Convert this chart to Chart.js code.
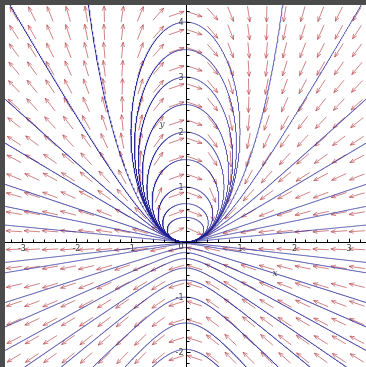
<!DOCTYPE html>
<html>
<head>
<meta charset="utf-8">
<script src="https://cdn.jsdelivr.net/npm/chart.js@4"></script>
<style>
  html, body { margin: 0; padding: 0; background: #4b4b4b; }
  canvas { display: block; }
</style>
</head>
<body>
<canvas id="phase" width="366" height="367"></canvas>
<script>
// view window
const xRange = [-3.31, 3.31];
const yRange = [-2.27, 4.31];

// axis labels
const xTickLabels = [-3, -2, -1, 1, 2, 3];
const yTickLabels = [-2, -1, 1, 2, 3, 4];

// starting points of the solution curves
const loopStartY = [4, 3.5, 3, 2.5, 2, 1.5, 1, 0.7, 0.45];
const openStartX = [1.78, 3.22, 3.31, 3.31, 3.31, 3.31, 3.31];
const openStartY = [4.31, 4.31, 2.6, 1.8, 1.05, 0.65, 0.31];
const lowerStartY = [-0.012, -0.027, -0.1, -0.19, -0.3, -0.47, -0.69, -1, -1.47, -1.95];

// direction field: x' = y - 2x^2, y' = -2xy
const dirGrid = [20, 20];
const fx = (x, y) => y - 2 * x * x;
const fy = (x, y) => -2 * x * y;

// trajectories are the conics x^2 = y + k*y^2
solutionCurve = (x0, y0) => {
    const k = (x0 * x0 - y0) / (y0 * y0);
    const pts = [];
    if (y0 > 0 && k < 0) {
        const a = -k;
        const rx = 1 / (2 * Math.sqrt(a));
        const ry = 1 / (2 * a);
        for (let i = 0; i <= 900; i++) {
            const t = i / 900 * 2 * Math.PI;
            pts.push({x: rx * Math.cos(t), y: ry + ry * Math.sin(t)});
        }
    } else {
        const sign = y0 > 0 ? 1 : -1;
        for (let i = 0; i <= 1000; i++) {
            const x = -3.4 + i * 6.8 / 1000;
            const y = k === 0 ? x * x : (-1 + sign * Math.sqrt(1 + 4 * k * x * x)) / (2 * k);
            pts.push({x: x, y: y});
        }
    }
    return pts;
}

const starts = [];
for (const y0 of loopStartY) starts.push([0, y0]);
for (let i = 0; i < openStartX.length; i++) starts.push([openStartX[i], openStartY[i]]);
for (const y0 of lowerStartY) starts.push([0, y0]);

const datasets = starts.map(s => ({
    data: solutionCurve(s[0], s[1]),
    showLine: true,
    borderColor: 'rgba(35, 35, 150, 0.75)',
    borderWidth: 1,
    pointRadius: 0,
    tension: 0
}));

const backdrop = {
    id: 'backdrop',
    beforeDraw(chart) {
        const {ctx, chartArea: a} = chart;
        ctx.save();
        ctx.fillStyle = '#4b4b4b';
        ctx.fillRect(0, 0, chart.width, chart.height);
        ctx.fillStyle = '#ffffff';
        ctx.fillRect(a.left, a.top, a.right - a.left, a.bottom - a.top);
        ctx.restore();
    }
};

const arrows = {
    id: 'arrows',
    beforeDatasetsDraw(chart) {
        const {ctx, scales: {x: sx, y: sy}} = chart;
        const dx = (xRange[1] - xRange[0]) / dirGrid[0];
        const dy = (yRange[1] - yRange[0]) / dirGrid[1];
        const len = 16, head = 5, spread = 0.38;
        ctx.save();
        ctx.strokeStyle = 'rgba(185, 65, 70, 0.65)';
        ctx.lineWidth = 1;
        for (let i = 0; i < dirGrid[0]; i++) {
            for (let j = 0; j < dirGrid[1]; j++) {
                const x = xRange[0] + (i + 0.5) * dx;
                const y = yRange[0] + (j + 0.5) * dy;
                const px = sx.getPixelForValue(x), py = sy.getPixelForValue(y);
                // direction in pixel space
                let pu = fx(x, y) * (sx.getPixelForValue(1) - sx.getPixelForValue(0));
                let pv = fy(x, y) * (sy.getPixelForValue(1) - sy.getPixelForValue(0));
                const m = Math.hypot(pu, pv);
                if (m === 0) continue;
                pu /= m; pv /= m;
                const x1 = px - pu * len / 2, y1 = py - pv * len / 2;
                const x2 = px + pu * len / 2, y2 = py + pv * len / 2;
                const ang = Math.atan2(pv, pu);
                ctx.beginPath();
                ctx.moveTo(x1, y1);
                ctx.lineTo(x2, y2);
                ctx.moveTo(x2 - head * Math.cos(ang - spread), y2 - head * Math.sin(ang - spread));
                ctx.lineTo(x2, y2);
                ctx.lineTo(x2 - head * Math.cos(ang + spread), y2 - head * Math.sin(ang + spread));
                ctx.stroke();
            }
        }
        ctx.restore();
    }
};

const axes = {
    id: 'axes',
    afterDatasetsDraw(chart) {
        const {ctx, chartArea: a, scales: {x: sx, y: sy}} = chart;
        const ox = Math.round(sx.getPixelForValue(0)) + 0.5;
        const oy = Math.round(sy.getPixelForValue(0)) + 0.5;
        ctx.save();
        ctx.strokeStyle = '#000';
        ctx.lineWidth = 1;
        ctx.beginPath();
        ctx.moveTo(a.left, oy); ctx.lineTo(a.right, oy);
        ctx.moveTo(ox, a.top); ctx.lineTo(ox, a.bottom);
        // small ticks every 0.2
        for (let t = -16; t <= 16; t++) {
            const v = t / 5;
            if (v > xRange[0] && v < xRange[1]) {
                const p = Math.round(sx.getPixelForValue(v)) + 0.5;
                ctx.moveTo(p, oy); ctx.lineTo(p, oy - (t % 5 === 0 ? 4 : 3));
            }
        }
        for (let t = -11; t <= 21; t++) {
            const v = t / 5;
            if (v > yRange[0] && v < yRange[1]) {
                const p = Math.round(sy.getPixelForValue(v)) + 0.5;
                ctx.moveTo(ox, p); ctx.lineTo(ox + (t % 5 === 0 ? 4 : 3), p);
            }
        }
        ctx.stroke();

        ctx.fillStyle = '#444';
        ctx.font = '8px "DejaVu Sans"';
        ctx.textAlign = 'center';
        ctx.textBaseline = 'middle';
        for (const v of xTickLabels) {
            ctx.fillText(String(v), sx.getPixelForValue(v), oy + 6);
        }
        ctx.textAlign = 'right';
        for (const v of yTickLabels) {
            ctx.fillText(String(v), ox - 3, sy.getPixelForValue(v) + 1);
        }
        ctx.fillText('0', ox - 3, oy + 4);
        ctx.font = 'italic 9px "DejaVu Serif"';
        ctx.textAlign = 'center';
        ctx.fillText('x', sx.getPixelForValue(1.64), sy.getPixelForValue(-0.58));
        ctx.fillText('y', sx.getPixelForValue(-0.43), sy.getPixelForValue(2.13));
        ctx.restore();
    }
};

new Chart(document.getElementById('phase'), {
    type: 'scatter',
    data: {datasets: datasets},
    options: {
        responsive: false,
        animation: false,
        devicePixelRatio: 1,
        layout: {padding: {left: 5, top: 5, right: 0, bottom: 0}},
        plugins: {legend: {display: false}, tooltip: {enabled: false}},
        scales: {
            x: {type: 'linear', min: xRange[0], max: xRange[1], display: false},
            y: {type: 'linear', min: yRange[0], max: yRange[1], display: false}
        }
    },
    plugins: [backdrop, arrows, axes]
});
</script>
</body>
</html>
